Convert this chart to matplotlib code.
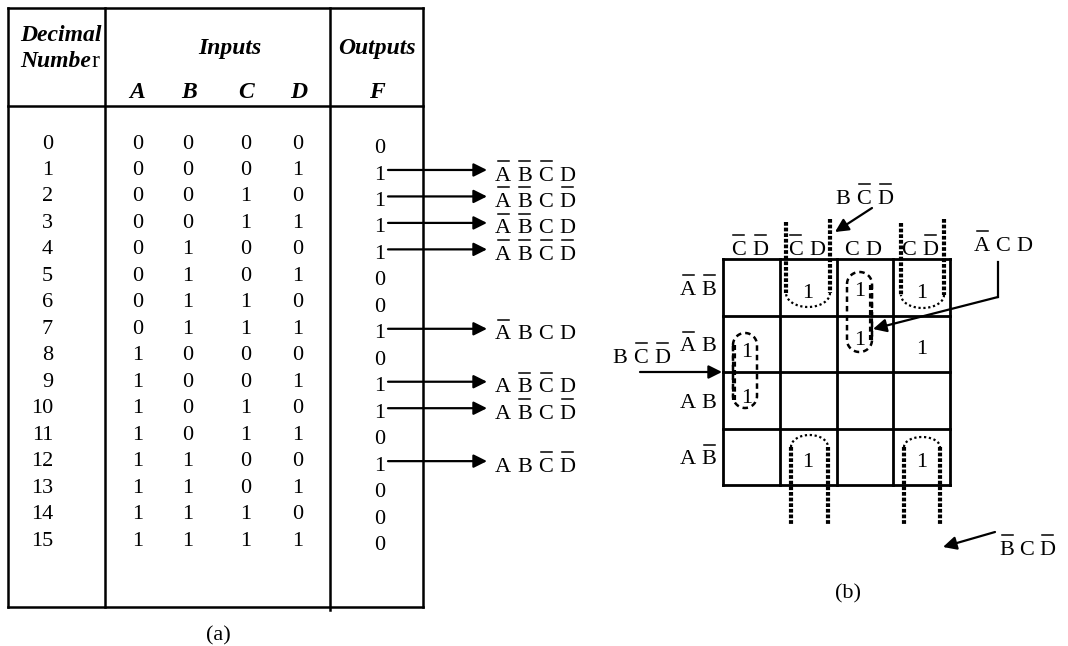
import numpy as np
import matplotlib
matplotlib.use("Agg")
import matplotlib.pyplot as plt

# ---------------- data ----------------
decimal = list(range(16))
col_A = [0, 0, 0, 0, 0, 0, 0, 0, 1, 1, 1, 1, 1, 1, 1, 1]
col_B = [0, 0, 0, 0, 1, 1, 1, 1, 0, 0, 0, 0, 1, 1, 1, 1]
col_C = [0, 0, 1, 1, 0, 0, 1, 1, 0, 0, 1, 1, 0, 0, 1, 1]
col_D = [0, 1, 0, 1, 0, 1, 0, 1, 0, 1, 0, 1, 0, 1, 0, 1]
col_F = [0, 1, 1, 1, 1, 0, 0, 1, 0, 1, 1, 0, 1, 0, 0, 0]
term_rows = [1, 2, 3, 4, 7, 9, 10, 12]
term_text = ["~A ~B ~C D", "~A ~B C ~D", "~A ~B C D", "~A ~B ~C ~D",
             "~A B C D", "A ~B ~C D", "A ~B C ~D", "A B ~C ~D"]
kmap_col_labels = ["~C ~D", "~C D", "C D", "C ~D"]
kmap_row_labels = ["~A ~B", "~A B", "A B", "A ~B"]
kmap_values = [[0, 1, 1, 1],
               [1, 0, 1, 1],
               [1, 0, 0, 0],
               [0, 1, 0, 1]]

SERIF = "Liberation Serif"
FS = 16
FSH = 17

fig = plt.figure(figsize=(10.68, 6.46), dpi=100)
ax = fig.add_axes([0, 0, 1, 1])
ax.set_xlim(0, 1068)
ax.set_ylim(646, 0)
ax.axis("off")


def line(xs, ys, lw=1.8, **kw):
    ax.plot(xs, ys, color="k", lw=lw, solid_capstyle="projecting", **kw)


def txt(x, yc, s, ha="center", bold=False, fs=FS):
    # yc = visual centre of capitals
    kw = dict(fontweight="bold", fontstyle="italic") if bold else {}
    return ax.text(x, yc + 0.34 * fs * 100 / 72, s, ha=ha, va="baseline",
                   fontsize=fs, family=SERIF, **kw)


def term(x0, yc, s, pitch=21):
    for i, tok in enumerate(s.split()):
        bar = tok.startswith("~")
        L = tok.lstrip("~")
        cx = x0 + 8 + pitch * i
        txt(cx, yc, L)
        if bar:
            ax.plot([cx - 5.5, cx + 5.5], [yc - 12, yc - 12], color="k", lw=1.1)


def arrow(x1, y1, x2, y2):
    ax.annotate("", xy=(x2, y2), xytext=(x1, y1),
                arrowprops=dict(arrowstyle="-|>", color="k", lw=1.6,
                                mutation_scale=20, shrinkA=0, shrinkB=0))


# ---------------- table (a) ----------------
L, R, T, Bt = 8, 423, 8, 607
x_div1, x_div2, y_head = 105, 330, 106
line([L, R], [T, T])
line([L, R], [Bt, Bt])
line([L, L], [T, Bt])
line([R, R], [T, Bt])
line([x_div1, x_div1], [T, Bt])
line([x_div2, x_div2], [T, Bt + 3])
line([L, R], [y_head, y_head])

txt(20, 33, "Decimal", ha="left", bold=True, fs=FSH)
t1 = txt(20, 59, "Numbe", ha="left", bold=True, fs=FSH)
fig.canvas.draw()
bb = t1.get_window_extent().transformed(ax.transData.inverted())
txt(bb.x1 + 0.5, 59, "r", ha="left", fs=FSH)
txt(230, 46, "Inputs", bold=True, fs=FSH)
txt(377, 46, "Outputs", bold=True, fs=FSH)
for x, s in zip([137, 189, 246, 299, 377], ["A", "B", "C", "D", "F"]):
    txt(x, 90, s, bold=True, fs=FSH)

row_y0, row_dy = 141, 26.47
for i in decimal:
    y = row_y0 + row_dy * i
    txt(53, y, str(decimal[i]), ha="right")
    for x, col in zip([138, 188, 246, 298], [col_A, col_B, col_C, col_D]):
        txt(x, y, str(col[i]))
    txt(380, y + 4.5, str(col_F[i]))

for r, s in zip(term_rows, term_text):
    yo = row_y0 + row_dy * r + 2.5
    arrow(388, yo, 487, yo)
    term(495, yo + 3, s, pitch=21.5)

txt(218, 633, "(a)")

# ---------------- K-map (b) ----------------
gx0, gx1, gy0, gy1 = 723, 950, 259, 485
cw = (gx1 - gx0) / 4
ch = (gy1 - gy0) / 4
for k in range(5):
    line([gx0 + k * cw, gx0 + k * cw], [gy0, gy1], lw=2.0)
    line([gx0, gx1], [gy0 + k * ch, gy0 + k * ch], lw=2.0)

for j, s in enumerate(kmap_col_labels):
    cx = gx0 + cw * (j + 0.5)
    term(cx - 21, 247, s, pitch=22)
for i, s in enumerate(kmap_row_labels):
    cy = gy0 + ch * (i + 0.5)
    term(680, cy, s, pitch=21)

# small nudges for the 1s that sit inside the vertical ovals
nudge = {(0, 2): (-5, 1), (1, 2): (-5, -6), (1, 0): (-5, 6), (2, 0): (-5, -5)}
for i in range(4):
    for j in range(4):
        if kmap_values[i][j]:
            cx = gx0 + cw * (j + 0.5)
            cy = gy0 + ch * (i + 0.5)
            dx, dy = nudge.get((i, j), (0, 3))
            txt(cx + dx, cy + dy, "1")

thick = dict(lw=3.0, linestyle=(0, (0.9, 0.45)))
dotted = dict(lw=1.6, linestyle=(0, (1, 1.2)))


def half_ellipse(cx, cy, rx, ry, lower=True, **kw):
    t = np.linspace(0, np.pi, 40) if lower else np.linspace(np.pi, 2 * np.pi, 40)
    ax.plot(cx + rx * np.cos(t), cy + ry * np.sin(t), color="k", **kw)


# top U loops (columns ~C D and C ~D)
ax.plot([786, 786], [222, 293], color="k", **thick)
ax.plot([830, 830], [219, 293], color="k", **thick)
half_ellipse(808, 293, 22, 14, lower=True, **dotted)
ax.plot([901, 901], [223, 295], color="k", **thick)
ax.plot([944, 944], [219, 295], color="k", **thick)
half_ellipse(922.5, 295, 21.5, 13, lower=True, **dotted)

# bottom arches
ax.plot([791, 791], [447, 524], color="k", **thick)
ax.plot([828, 828], [447, 524], color="k", **thick)
half_ellipse(809.5, 447, 18.5, 12, lower=False, **dotted)
ax.plot([904, 904], [447, 524], color="k", **thick)
ax.plot([940, 940], [447, 524], color="k", **thick)
half_ellipse(922, 447, 18, 10, lower=False, **dotted)


def stadium(x0, x1, y0, y1, **kw):
    rx = (x1 - x0) / 2
    ry = 12
    cx = (x0 + x1) / 2
    t1 = np.linspace(np.pi, 2 * np.pi, 30)
    t2 = np.linspace(0, np.pi, 30)
    xs = np.concatenate([cx + rx * np.cos(t1), [x1, x1], cx + rx * np.cos(t2), [x0, x0]])
    ys = np.concatenate([y0 + ry + ry * np.sin(t1), [y0 + ry, y1 - ry],
                         y1 - ry + ry * np.sin(t2), [y1 - ry, y0 + ry]])
    ax.plot(xs, ys, color="k", **kw)


dashed = dict(lw=1.8, linestyle=(0, (2.2, 1.6)))
stadium(847, 872, 272, 352, **dashed)
ax.plot([871, 871], [285, 340], color="k", lw=3.0, linestyle=(0, (1.2, 0.8)))
stadium(733, 757, 333, 408, **dashed)
ax.plot([734, 734], [345, 400], color="k", lw=3.0, linestyle=(0, (1.2, 0.8)))

# annotations
term(835, 196, "B ~C ~D", pitch=21)
arrow(872, 208, 835, 232)
term(974, 243, "~A C D", pitch=21)
line([998, 998], [262, 297], lw=1.6)
arrow(998, 297, 873, 329)
term(612, 355, "B ~C ~D", pitch=21)
arrow(640, 372, 722, 372)
term(999, 547, "~B C ~D", pitch=20)
arrow(995, 532, 943, 547)

txt(848, 591, "(b)")

fig.savefig("out.png", dpi=100, facecolor="white")
